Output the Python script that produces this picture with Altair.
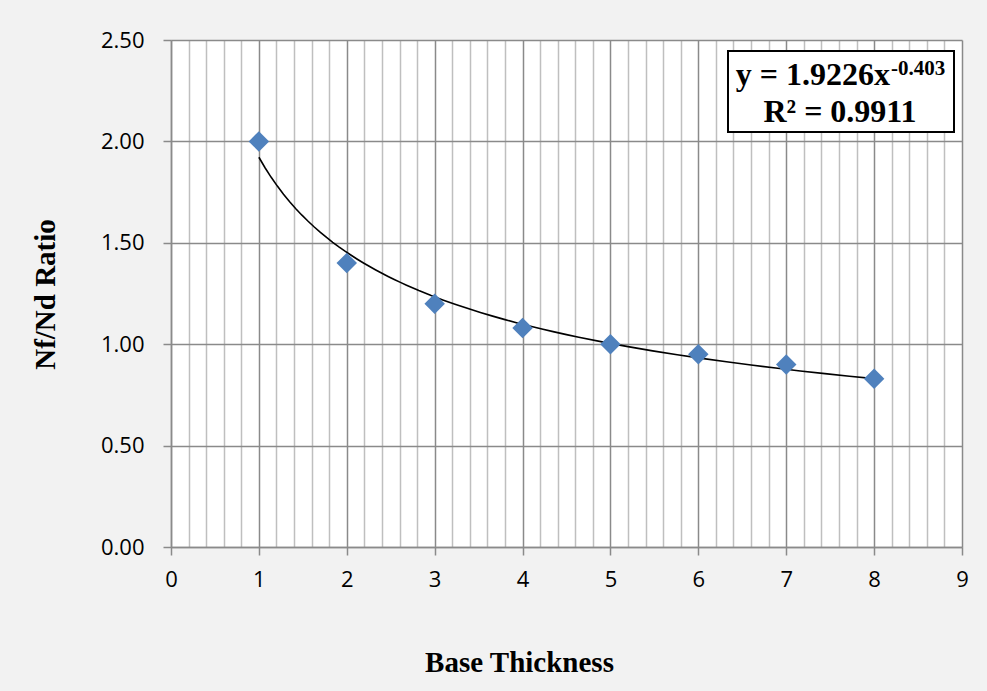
import altair as alt
import pandas as pd

# data
base_thickness = [1, 2, 3, 4, 5, 6, 7, 8]
nf_nd_ratio = [2.00, 1.40, 1.20, 1.08, 1.00, 0.95, 0.90, 0.83]
x_tick_values = [round(i * 0.2, 1) for i in range(46)]
y_tick_values = [0.0, 0.5, 1.0, 1.5, 2.0, 2.5]
eq_line1 = "y = 1.9226x"
eq_exp = "-0.403"
eq_line2 = "R² = 0.9911"

df = pd.DataFrame({"x": base_thickness, "y": nf_nd_ratio})

major = "abs(datum.value - round(datum.value)) < 0.001"
label_font = "Open Sans"
serif = "Liberation Serif"

x_enc = alt.X(
    "x:Q",
    scale=alt.Scale(domain=[0, 9], nice=False, zero=False),
    axis=alt.Axis(
        values=x_tick_values,
        title="Base Thickness",
        titleFont=serif, titleFontSize=29, titleFontWeight="bold", titleColor="black",
        titleX=348, titleY=115, titleBaseline="middle", titleAlign="center",
        labelFont=label_font, labelFontSize=22, labelColor="black",
        labelExpr=f"({major}) ? format(datum.value, 'd') : ''",
        labelPadding=14,
        labelOverlap=False,
        labelFlush=False,
        grid=True,
        gridColor={"condition": {"test": major, "value": "#8a8a8a"}, "value": "#bfbfbf"},
        gridWidth=1.5,
        tickColor="#8a8a8a", tickWidth=1.5, tickSize=8,
        tickOpacity={"condition": {"test": major, "value": 1}, "value": 0},
        domainColor="#8a8a8a", domainWidth=1.5,
    ),
)
y_enc = alt.Y(
    "y:Q",
    scale=alt.Scale(domain=[0, 2.5], nice=False),
    axis=alt.Axis(
        values=y_tick_values,
        format=".2f",
        title="Nf/Nd Ratio",
        titleFont=serif, titleFontSize=29, titleFontWeight="bold", titleColor="black",
        titleX=-126, titleY=254, titleAngle=270, titleBaseline="middle", titleAlign="center",
        labelFont=label_font, labelFontSize=22, labelColor="black",
        labelPadding=19,
        grid=True, gridColor="#8a8a8a", gridWidth=1.5,
        tickColor="#8a8a8a", tickWidth=1.5, tickSize=8,
        domainColor="#8a8a8a", domainWidth=1.5,
    ),
)

base = alt.Chart(df)

trend = base.transform_regression(
    "x", "y", method="pow", extent=[1, 8]
).mark_line(color="black", strokeWidth=1.6).encode(x=x_enc, y=y_enc)

points = base.mark_point(
    shape="diamond", filled=True, color="#4f81bd", size=420, opacity=1
).encode(x=x_enc, y=y_enc)

box = alt.Chart(pd.DataFrame({"a": [0]})).mark_rect(
    fill="white", stroke="black", strokeWidth=2
).encode(x=alt.value(557), x2=alt.value(783), y=alt.value(11), y2=alt.value(92))

line1 = alt.Chart(pd.DataFrame({"t": [eq_line1]})).mark_text(
    font=serif, fontSize=32, fontWeight="bold", align="right", baseline="alphabetic", color="black"
).encode(text="t:N", x=alt.value(719), y=alt.value(45))

sup = alt.Chart(pd.DataFrame({"t": [eq_exp]})).mark_text(
    font=serif, fontSize=21, fontWeight="bold", align="left", baseline="alphabetic", color="black"
).encode(text="t:N", x=alt.value(720), y=alt.value(35))

line2 = alt.Chart(pd.DataFrame({"t": [eq_line2]})).mark_text(
    font=serif, fontSize=32, fontWeight="bold", align="center", baseline="alphabetic", color="black"
).encode(text="t:N", x=alt.value(669), y=alt.value(82))

chart = alt.layer(trend, points, box, line1, sup, line2).properties(
    width=791,
    height=507,
    autosize=alt.AutoSizeParams(type="none"),
    padding={"left": 171, "top": 40, "right": 25, "bottom": 144},
    background="#f2f2f2",
).configure_view(fill="white", stroke=None)

chart.save("out.html", embed_options={"renderer": "svg", "actions": False})
